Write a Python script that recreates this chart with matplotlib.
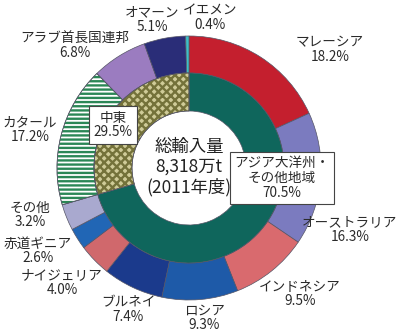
import matplotlib
matplotlib.use("Agg")
import matplotlib.pyplot as plt
from matplotlib.patches import Wedge

plt.rcParams['font.family'] = ['Noto Sans CJK JP', 'DejaVu Sans']

# ---- data ----
outer_labels = ["マレーシア", "オーストラリア", "インドネシア", "ロシア", "ブルネイ",
                "ナイジェリア", "赤道ギニア", "その他", "カタール", "アラブ首長国連邦",
                "オマーン", "イエメン"]
outer_values = [18.2, 16.3, 9.5, 9.3, 7.4, 4.0, 2.6, 3.2, 17.2, 6.8, 5.1, 0.4]
inner_labels = ["アジア大洋州・\nその他地域", "中東"]
inner_values = [70.5, 29.5]
center_title = ["総輸入量", "8,318万t", "(2011年度)"]

# ---- style ----
outer_colors = ["#c41f2e", "#7b7bbf", "#d96a6e", "#1e5aa8", "#1b3a8c",
                "#d0686c", "#2166b5", "#a9a9cf", "#ffffff", "#9b7cc0",
                "#2a2d78", "#3cc0c8"]
inner_colors = ["#0f665c", "#cfcb98"]

W, H = 400, 336
fig = plt.figure(figsize=(W / 100, H / 100), dpi=100)
ax = fig.add_axes([0, 0, 1, 1])

cx, cy = 189, H - 168
R_out = 132
R_mid = 95
R_in = 57

plt.rcParams['hatch.linewidth'] = 1.7
wedges_o, _ = ax.pie(outer_values, radius=R_out, center=(cx, cy), startangle=90,
                     counterclock=False, colors=outer_colors,
                     wedgeprops=dict(width=R_out - R_mid, edgecolor="#555566", linewidth=0.5))
wedges_i, _ = ax.pie(inner_values, radius=R_mid, center=(cx, cy), startangle=90,
                     counterclock=False, colors=inner_colors,
                     wedgeprops=dict(width=R_mid - R_in, edgecolor="#555566", linewidth=0.5))

# Qatar stripes
q = wedges_o[8]
ax.add_patch(Wedge(q.center, q.r, q.theta1, q.theta2, width=q.width,
                   facecolor="none", edgecolor="#2b8756", linewidth=0, hatch="----"))
# Middle East crosshatch
m = wedges_i[1]
ax.add_patch(Wedge(m.center, m.r, m.theta1, m.theta2, width=m.width,
                   facecolor="none", edgecolor="#74723a", linewidth=0, hatch="xxxx"))
for w in (q, m):
    ax.add_patch(Wedge(w.center, w.r, w.theta1, w.theta2, width=w.width,
                       facecolor="none", edgecolor="#555566", linewidth=0.5))

ax.set_xlim(0, W)
ax.set_ylim(0, H)
ax.set_aspect('equal')
ax.axis('off')

# outer labels (positions in image px from top-left)
label_pos = [(330, 50), (350, 230), (300, 294), (204, 318), (128, 310),
             (62, 283), (38, 251), (30, 215), (30, 130), (75, 46),
             (152, 20), (210, 18)]
for name, val, (x, y) in zip(outer_labels, outer_values, label_pos):
    ax.text(x, H - y, f"{name}\n{val:.1f}%", ha="center", va="center",
            fontsize=9.8, linespacing=1.08, color="#2a2a2a")

# inner labels with boxes
box_pos = [(282, 178), (113, 125)]
for name, val, (x, y) in zip(inner_labels, inner_values, box_pos):
    ax.text(x, H - y, f"{name}\n{val:.1f}%", ha="center", va="center",
            fontsize=9.8, linespacing=1.08, color="#2a2a2a",
            bbox=dict(boxstyle="square,pad=0.32", facecolor="white",
                      edgecolor="#444444", linewidth=0.8))

ax.text(cx, H - 167, "\n".join(center_title), ha="center", va="center",
        fontsize=12.5, linespacing=1.15, color="#222222")

fig.savefig("out.png", dpi=100)
